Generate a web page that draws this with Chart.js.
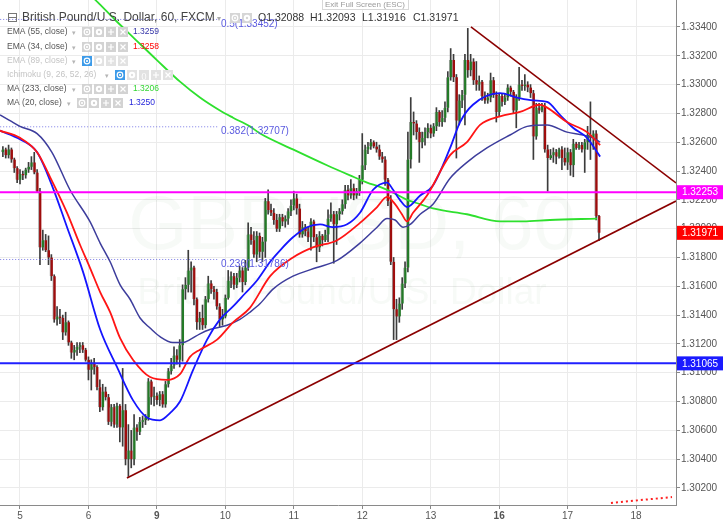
<!DOCTYPE html>
<html>
<head>
<meta charset="utf-8">
<script src="https://cdn.jsdelivr.net/npm/chart.js@4.4.1/dist/chart.umd.min.js"></script>
<style>
  html, body { margin: 0; padding: 0; background: #fff; overflow: hidden; }
  canvas { display: block; }
</style>
</head>
<body>
<canvas id="chart" width="723" height="523"></canvas>
<script>
// GBPUSD 60 min candles, hour 0 = start of the 5th
const firstHour = -6;
const opens = [
  1.3253,1.3255,1.3251,1.3255,1.3248,1.3242,1.3234,1.3238,1.3237,1.3241,
  1.3243,1.3246,1.3239,1.3226,1.3187,1.3192,1.3185,1.3180,1.3167,1.3137,
  1.3139,1.3138,1.3128,1.3135,1.3121,1.3114,1.3116,1.3118,1.3119,1.3116,
  1.3109,1.3102,1.3107,1.3104,1.3090,1.3076,1.3087,1.3083,1.3066,1.3076,
  1.3064,1.3077,1.3062,1.3074,1.3040,1.3046,1.3040,1.3062,1.3059,1.3066,
  1.3067,1.3069,1.3094,1.3083,1.3084,1.3081,1.3085,1.3078,1.3092,1.3101,
  1.3105,1.3112,1.3109,1.3119,1.3158,1.3161,1.3171,1.3173,1.3151,1.3135,
  1.3138,1.3133,1.3151,1.3162,1.3158,1.3156,1.3146,1.3137,1.3139,1.3152,
  1.3164,1.3167,1.3161,1.3166,1.3171,1.3163,1.3173,1.3196,1.3192,1.3182,
  1.3195,1.3184,1.3191,1.3219,1.3213,1.3211,1.3206,1.3200,1.3208,1.3205,
  1.3207,1.3212,1.3216,1.3221,1.3214,1.3196,1.3201,1.3198,1.3194,1.3205,
  1.3194,1.3187,1.3195,1.3192,1.3196,1.3207,1.3210,1.3203,1.3210,1.3212,
  1.3217,1.3227,1.3223,1.3228,1.3223,1.3226,1.3234,1.3244,1.3255,1.3257,
  1.3260,1.3257,1.3255,1.3250,1.3248,1.3234,1.3219,1.3177,1.3144,1.3139,
  1.3148,1.3162,1.3173,1.3248,1.3274,1.3273,1.3267,1.3260,1.3263,1.3267,
  1.3270,1.3266,1.3271,1.3281,1.3274,1.3277,1.3284,1.3305,1.3317,1.3305,
  1.3275,1.3289,1.3293,1.3317,1.3310,1.3316,1.3303,1.3300,1.3302,1.3292,
  1.3289,1.3291,1.3303,1.3293,1.3281,1.3292,1.3288,1.3291,1.3298,1.3295,
  1.3282,1.3291,1.3300,1.3299,1.3300,1.3298,1.3294,1.3264,1.3284,1.3282,
  1.3285,1.3255,1.3249,1.3251,1.3253,1.3250,1.3255,1.3249,1.3246,1.3253,
  1.3244,1.3259,1.3256,1.3258,1.3255,1.3260,1.3265,1.3263,1.3266,1.32088
];
const highs = [
  1.3257,1.3256,1.3258,1.3256,1.3249,1.3243,1.3241,1.3240,1.3242,1.3246,
  1.3250,1.3253,1.3241,1.3228,1.3199,1.3196,1.3195,1.3182,1.3168,1.3146,
  1.3144,1.3140,1.3142,1.3136,1.3122,1.3119,1.3121,1.3121,1.3121,1.3117,
  1.3111,1.3109,1.3110,1.3105,1.3095,1.3092,1.3090,1.3085,1.3078,1.3078,
  1.3079,1.3078,1.3103,1.3078,1.3064,1.3060,1.3071,1.3064,1.3069,1.3070,
  1.3071,1.3096,1.3095,1.3090,1.3086,1.3087,1.3087,1.3094,1.3103,1.3110,
  1.3118,1.3116,1.3123,1.3161,1.3166,1.3185,1.3177,1.3174,1.3152,1.3142,
  1.3147,1.3153,1.3167,1.3164,1.3160,1.3158,1.3148,1.3144,1.3154,1.3171,
  1.3170,1.3169,1.3169,1.3174,1.3173,1.3178,1.3204,1.3201,1.3198,1.3198,
  1.3197,1.3194,1.3221,1.3227,1.3217,1.3214,1.3210,1.3210,1.3210,1.3209,
  1.3214,1.3220,1.3226,1.3224,1.3217,1.3205,1.3203,1.3201,1.3207,1.3206,
  1.3196,1.3198,1.3196,1.3199,1.3213,1.3218,1.3212,1.3212,1.3214,1.3220,
  1.3230,1.3230,1.3234,1.3231,1.3228,1.3237,1.3266,1.3258,1.3260,1.3262,
  1.3261,1.3260,1.3258,1.3253,1.3250,1.3235,1.3223,1.3180,1.3151,1.3152,
  1.3166,1.3177,1.3267,1.3291,1.3281,1.3275,1.3270,1.3267,1.3270,1.3273,
  1.3272,1.3273,1.3284,1.3282,1.3282,1.3288,1.3309,1.3325,1.3321,1.3307,
  1.3293,1.3296,1.3321,1.3339,1.3321,1.3318,1.3316,1.3306,1.3303,1.3295,
  1.3294,1.3308,1.3305,1.3295,1.3294,1.3294,1.3294,1.3300,1.3299,1.3296,
  1.3293,1.3312,1.3303,1.3307,1.3302,1.3300,1.3296,1.3287,1.3287,1.3287,
  1.3287,1.3258,1.3255,1.3256,1.3255,1.3256,1.3257,1.3256,1.3256,1.3255,
  1.3262,1.3260,1.3260,1.3260,1.3262,1.3271,1.3288,1.3268,1.3268,1.32093
];
const lows = [
  1.3250,1.3249,1.3249,1.3246,1.3239,1.3232,1.3231,1.3234,1.3235,1.3239,
  1.3241,1.3238,1.3225,1.3175,1.3185,1.3184,1.3175,1.3164,1.3135,1.3133,
  1.3134,1.3123,1.3126,1.3119,1.3110,1.3109,1.3112,1.3114,1.3114,1.3108,
  1.3095,1.3088,1.3099,1.3088,1.3073,1.3074,1.3081,1.3064,1.3063,1.3062,
  1.3062,1.3052,1.3049,1.3036,1.3028,1.3034,1.3036,1.3053,1.3057,1.3062,
  1.3064,1.3067,1.3078,1.3077,1.3078,1.3077,1.3076,1.3076,1.3090,1.3099,
  1.3103,1.3106,1.3104,1.3108,1.3151,1.3156,1.3156,1.3147,1.3130,1.3130,
  1.3130,1.3131,1.3149,1.3155,1.3151,1.3144,1.3132,1.3133,1.3138,1.3151,
  1.3159,1.3158,1.3159,1.3163,1.3156,1.3161,1.3171,1.3189,1.3180,1.3177,
  1.3180,1.3177,1.3180,1.3210,1.3209,1.3203,1.3198,1.3198,1.3202,1.3201,
  1.3203,1.3209,1.3213,1.3210,1.3194,1.3194,1.3195,1.3191,1.3185,1.3191,
  1.3177,1.3184,1.3188,1.3191,1.3191,1.3205,1.3176,1.3189,1.3206,1.3210,
  1.3214,1.3220,1.3221,1.3220,1.3221,1.3223,1.3231,1.3241,1.3252,1.3255,
  1.3256,1.3253,1.3248,1.3246,1.3230,1.3216,1.3175,1.3123,1.3123,1.3135,
  1.3144,1.3159,1.3170,1.3242,1.3265,1.3262,1.3246,1.3256,1.3258,1.3263,
  1.3263,1.3264,1.3268,1.3271,1.3271,1.3274,1.3281,1.3303,1.3302,1.3249,
  1.3272,1.3284,1.3272,1.3305,1.3306,1.3300,1.3296,1.3296,1.3289,1.3287,
  1.3287,1.3288,1.3291,1.3274,1.3278,1.3285,1.3286,1.3289,1.3292,1.3280,
  1.3270,1.3289,1.3296,1.3296,1.3295,1.3291,1.3248,1.3262,1.3280,1.3281,
  1.3253,1.3226,1.3248,1.3246,1.3245,1.3249,1.3241,1.3244,1.3241,1.3237,
  1.3236,1.3255,1.3255,1.3253,1.3239,1.3255,1.3248,1.3255,1.3206,1.31916
];
const closes = [
  1.3255,1.3251,1.3255,1.3248,1.3242,1.3234,1.3238,1.3237,1.3241,1.3243,
  1.3246,1.3239,1.3226,1.3187,1.3192,1.3185,1.3180,1.3167,1.3137,1.3139,
  1.3138,1.3128,1.3135,1.3121,1.3114,1.3116,1.3118,1.3119,1.3116,1.3109,
  1.3102,1.3107,1.3104,1.3090,1.3076,1.3087,1.3083,1.3066,1.3076,1.3064,
  1.3077,1.3062,1.3074,1.3040,1.3046,1.3040,1.3062,1.3059,1.3066,1.3067,
  1.3069,1.3094,1.3083,1.3084,1.3081,1.3085,1.3078,1.3092,1.3101,1.3105,
  1.3112,1.3109,1.3119,1.3158,1.3161,1.3171,1.3173,1.3151,1.3135,1.3138,
  1.3133,1.3151,1.3162,1.3158,1.3156,1.3146,1.3137,1.3139,1.3152,1.3164,
  1.3167,1.3161,1.3166,1.3171,1.3163,1.3173,1.3196,1.3192,1.3182,1.3195,
  1.3184,1.3191,1.3219,1.3213,1.3211,1.3206,1.3200,1.3208,1.3205,1.3207,
  1.3212,1.3216,1.3221,1.3214,1.3196,1.3201,1.3198,1.3194,1.3205,1.3194,
  1.3187,1.3195,1.3192,1.3196,1.3207,1.3210,1.3203,1.3210,1.3212,1.3217,
  1.3227,1.3223,1.3228,1.3223,1.3226,1.3234,1.3244,1.3255,1.3257,1.3260,
  1.3257,1.3255,1.3250,1.3248,1.3234,1.3219,1.3177,1.3144,1.3139,1.3148,
  1.3162,1.3173,1.3248,1.3274,1.3273,1.3267,1.3260,1.3263,1.3267,1.3270,
  1.3266,1.3271,1.3281,1.3274,1.3277,1.3284,1.3305,1.3317,1.3305,1.3275,
  1.3289,1.3293,1.3317,1.3310,1.3316,1.3303,1.3300,1.3302,1.3292,1.3289,
  1.3291,1.3303,1.3293,1.3281,1.3292,1.3288,1.3291,1.3298,1.3295,1.3282,
  1.3291,1.3300,1.3299,1.3300,1.3298,1.3294,1.3264,1.3284,1.3282,1.3285,
  1.3255,1.3249,1.3251,1.3253,1.3250,1.3255,1.3249,1.3246,1.3253,1.3244,
  1.3259,1.3256,1.3258,1.3255,1.3260,1.3265,1.3263,1.3266,1.32088,1.31971
];

// indicator lines: [hour, price]
const ema55 = [[-7,1.3279],[-3.5,1.3275],[0,1.3271],[6,1.3266],[11.2,1.3253],[17.5,1.3227],[24.5,1.3205],
  [28.1,1.3190],[31.6,1.3177],[35.1,1.3161],[38.6,1.3151],[42.1,1.3138],[45.6,1.3131],[49.1,1.3125],
  [53.6,1.3121],[57.2,1.3121],[59.6,1.3123],[63.1,1.3127],[66.6,1.3130],[72.6,1.3133],[77.1,1.3137],
  [80.6,1.3142],[84.2,1.3148],[88.7,1.3158],[95.7,1.3167],[104.1,1.3173],[111.2,1.3178],[119.2,1.3190],
  [125.2,1.3201],[128.7,1.3207],[131.5,1.3206],[134.3,1.3201],[136.8,1.3203],[140.3,1.3210],[144.8,1.3217],
  [150.8,1.3235],[156.7,1.3246],[163.7,1.3256],[171.8,1.3265],[177.8,1.3271],[184.8,1.3272],[191.8,1.3267],
  [197.4,1.3265],[200.9,1.3263],[203.4,1.3260]];
const ema34 = [[-7,1.3268],[0,1.3263],[6,1.3253],[10.5,1.3236],[16.5,1.3211],[21,1.3189],[24.5,1.3173],
  [28.1,1.3156],[31.6,1.3142],[35.1,1.3124],[39.6,1.3109],[45.6,1.3097],[51.5,1.3095],[56.1,1.3099],
  [59.6,1.3111],[63.1,1.3116],[69.1,1.3123],[74.7,1.3135],[80.6,1.3145],[87.7,1.3167],[95.7,1.3180],
  [102.7,1.3187],[111.2,1.3192],[119.2,1.3204],[125.2,1.3215],[128.7,1.3222],[131.5,1.3217],[133.9,1.3210],
  [135.7,1.3205],[137.8,1.3211],[142.7,1.3223],[150.8,1.3251],[156.7,1.3260],[161.3,1.3272],[168.3,1.3278],
  [175.3,1.3281],[182.3,1.3286],[184.8,1.3284],[191.8,1.3274],[198.8,1.3267],[203.4,1.3258]];
const ma20 = [[-7,1.3268],[0,1.3262],[6,1.3253],[11.6,1.3228],[16.5,1.3201],[22.1,1.3170],[28.1,1.3130],
  [34,1.3104],[39.6,1.3081],[44.5,1.3069],[49.1,1.3067],[52.6,1.3072],[56.1,1.3080],[60.7,1.3102],
  [65.6,1.3123],[70.1,1.3137],[74.7,1.3146],[78.9,1.3155],[83.1,1.3164],[87.7,1.3177],[91.2,1.3185],
  [95.7,1.3194],[100.6,1.3201],[105.2,1.3203],[109.7,1.3201],[114.7,1.3203],[119.2,1.3211],[123.8,1.3227],
  [128.7,1.3232],[130.8,1.3227],[133.2,1.3220],[135.7,1.3215],[140.3,1.3223],[144.8,1.3230],[150.8,1.3256],
  [154.3,1.3274],[158.8,1.3286],[168.3,1.3294],[174.3,1.3291],[179.9,1.3289],[184.8,1.3288],[189.3,1.3279],
  [193.9,1.3270],[198.8,1.3263],[203.4,1.3250]];
const ma233 = [[17.5,1.3376],[27.3,1.3357],[33.3,1.3345],[39.6,1.3333],[48,1.3317],[56.1,1.3302],[63.1,1.3291],
  [70.1,1.3282],[74.7,1.3277],[80.6,1.3271],[84.2,1.3266],[95.7,1.3255],[107.6,1.3244],[115.7,1.3237],
  [121.7,1.3232],[126.2,1.3229],[130.8,1.3225],[135.7,1.3220],[140.3,1.3217],[144.8,1.3214],[156.7,1.3210],
  [168.3,1.3205],[176.4,1.3205],[185.8,1.3206],[202.3,1.3207]];
const ichimokuTail = [[207.2,1.30096],[217.5,1.30116],[228.6,1.30137]];

// drawings
const supportLevel = 1.32253;
const lowLevel = 1.31065;
const upperTrend = [[158.1,1.3340],[230,1.32317]];
const lowerTrend = [[37.5,1.30269],[230,1.32192]];
const fibLevels = [0.5, 0.382, 0.236];
const fibPrices = [1.33452, 1.32707, 1.31786];
const fibEndHour = 69.4;

// axes
const dayHours = [0, 24, 48, 72, 96, 120, 144, 168, 192, 216];
const dayLabels = ['5', '6', '9', '10', '11', '12', '13', '16', '17', '18'];
const weekStarts = ['9', '16'];
const priceTicks = [1.302, 1.304, 1.306, 1.308, 1.310, 1.312, 1.314, 1.316, 1.318,
                    1.320, 1.322, 1.324, 1.326, 1.328, 1.330, 1.332, 1.334];
const markerPrices = [supportLevel, closes[closes.length - 1], lowLevel];
const markerColors = ['#ff00ff', '#ff0000', '#1a1aff'];

const title = 'British Pound/U.S. Dollar, 60, FXCM';
const watermark = ['GBPUSD, 60', 'British Pound/U.S. Dollar'];
const legendNames = ['EMA (55, close)', 'EMA (34, close)', 'EMA (89, close)', 'Ichimoku (9, 26, 52, 26)', 'MA (233, close)', 'MA (20, close)'];
const legendValues = ['1.3259', '1.3258', '', '', '1.3206', '1.3250'];

const FONT = '"Liberation Sans", Arial, sans-serif';
const upColor = '#237a27', downColor = '#9e0d0d';

const hours = opens.map((_, i) => firstHour + i);
const pts = arr => arr.map(p => ({x: p[0], y: p[1]}));
const line = (arr, color, width, extra) => Object.assign({
  type: 'line', data: pts(arr), borderColor: color, borderWidth: width,
  pointRadius: 0, fill: false, cubicInterpolationMode: 'monotone', order: 1
}, extra || {});

function icon(ctx, x, y, kind, bg) {
  ctx.fillStyle = bg;
  ctx.fillRect(x, y - 5, 10, 10);
  ctx.strokeStyle = '#fff'; ctx.fillStyle = '#fff'; ctx.lineWidth = 1.2;
  const cx = x + 5, cy = y;
  ctx.beginPath();
  if (kind === 'eye') {
    ctx.arc(cx, cy, 2.8, 0, Math.PI * 2); ctx.stroke();
    ctx.beginPath(); ctx.arc(cx, cy, 1.1, 0, Math.PI * 2); ctx.fill();
  } else if (kind === 'gear') {
    ctx.arc(cx, cy, 3.2, 0, Math.PI * 2); ctx.fill();
    ctx.fillStyle = bg; ctx.beginPath(); ctx.arc(cx, cy, 1.2, 0, Math.PI * 2); ctx.fill();
  } else if (kind === 'plus') {
    ctx.moveTo(cx - 3, cy); ctx.lineTo(cx + 3, cy); ctx.moveTo(cx, cy - 3); ctx.lineTo(cx, cy + 3); ctx.stroke();
  } else if (kind === 'x') {
    ctx.moveTo(cx - 2.5, cy - 2.5); ctx.lineTo(cx + 2.5, cy + 2.5);
    ctx.moveTo(cx + 2.5, cy - 2.5); ctx.lineTo(cx - 2.5, cy + 2.5); ctx.stroke();
  } else if (kind === 'paren') {
    ctx.font = '8px ' + FONT; ctx.textAlign = 'center'; ctx.fillText('()', cx, cy + 0.5); ctx.textAlign = 'left';
  }
}

const overlay = {
  id: 'overlay',
  beforeDatasetsDraw(chart) {
    const {ctx, chartArea: a} = chart;
    ctx.save();
    ctx.beginPath(); ctx.rect(a.left, a.top, a.width, a.height); ctx.clip();
    ctx.fillStyle = 'rgba(60,130,60,0.045)';
    ctx.textAlign = 'center'; ctx.textBaseline = 'middle';
    ctx.font = '76px ' + FONT;
    ctx.fillText(watermark[0], 352, 228);
    ctx.font = '37px ' + FONT;
    ctx.fillText(watermark[1], 342, 294);
    ctx.restore();
  },
  afterDraw(chart) {
    const {ctx, chartArea: a, scales: {x, y}} = chart;
    ctx.save();
    ctx.textBaseline = 'middle';

    // fib labels
    ctx.font = '10px ' + FONT; ctx.fillStyle = '#5a5ae0'; ctx.textAlign = 'left';
    fibPrices.forEach((p, i) => {
      ctx.fillText(fibLevels[i] + '(' + p.toFixed(5) + ')', x.getPixelForValue(fibEndHour) + 3, y.getPixelForValue(p) + 4.5);
    });

    // price labels on the axis
    ctx.textAlign = 'center';
    markerPrices.forEach((p, i) => {
      const py = y.getPixelForValue(p);
      ctx.fillStyle = markerColors[i];
      ctx.fillRect(a.right + 1, py - 7, 47, 14);
      ctx.fillStyle = '#fff';
      ctx.fillText(p.toFixed(5), a.right + 24, py + 0.5);
    });

    // exit full screen button
    ctx.fillStyle = '#fff'; ctx.strokeStyle = '#d8d8d8'; ctx.lineWidth = 1;
    ctx.fillRect(322, -1, 86, 11); ctx.strokeRect(322.5, -1.5, 86, 11);
    ctx.fillStyle = '#9a9a9a'; ctx.font = '8px ' + FONT;
    ctx.fillText('Exit Full Screen (ESC)', 365, 4.5);

    // title row
    ctx.textAlign = 'left';
    ctx.strokeStyle = '#777';
    ctx.strokeRect(8.5, 13.5, 8, 8);
    ctx.beginPath(); ctx.moveTo(8.5, 17.5); ctx.lineTo(16.5, 17.5); ctx.stroke();
    ctx.fillStyle = '#444'; ctx.font = '12px ' + FONT;
    ctx.fillText(title, 22, 18);
    ctx.fillStyle = '#aaa'; ctx.font = '8px "DejaVu Sans"';
    ctx.fillText('\u25BE', 217, 19);
    icon(ctx, 230, 18, 'eye', '#d6d6d6');
    icon(ctx, 242, 18, 'gear', '#d6d6d6');
    const last = closes.length - 1;
    const ohlcX = [258, 310, 362, 413];
    ctx.font = '10.5px ' + FONT; ctx.fillStyle = '#333';
    [['O', opens], ['H', highs], ['L', lows], ['C', closes]].forEach((e, i) => {
      ctx.fillText(e[0] + e[1][last].toFixed(5), ohlcX[i], 18);
    });

    // indicator legend
    const rowY = [32, 47, 61, 75, 89, 103];
    const faded = [false, false, true, true, false, false];
    const arrowX = [72, 72, 72, 105, 72, 67];
    const iconX = [82, 82, 82, 115, 82, 77];
    const valueX = [133, 133, 0, 0, 133, 129];
    const valueColors = ['#3535a8', '#ff0000', '', '', '#33d633', '#1f1fd8'];
    legendNames.forEach((name, i) => {
      ctx.font = '8.5px ' + FONT;
      ctx.fillStyle = faded[i] ? '#c4c4c4' : '#555';
      ctx.fillText(name, 7, rowY[i]);
      ctx.fillStyle = '#b5b5b5'; ctx.font = '7px "DejaVu Sans"';
      ctx.fillText('\u25BE', arrowX[i], rowY[i] + 1);
      const kinds = i === 3 ? ['eye', 'gear', 'paren', 'plus', 'x'] : ['eye', 'gear', 'plus', 'x'];
      kinds.forEach((k, j) => {
        const bg = faded[i] ? (j === 0 ? '#3d9be9' : '#e2e2e2') : '#d3d3d3';
        icon(ctx, iconX[i] + j * 12, rowY[i], k, bg);
      });
      if (legendValues[i]) {
        ctx.font = '8.5px ' + FONT; ctx.fillStyle = valueColors[i];
        ctx.fillText(legendValues[i], valueX[i], rowY[i]);
      }
    });
    ctx.restore();
  }
};

new Chart(document.getElementById('chart'), {
  type: 'bar',
  data: {
    datasets: [
      line([[-8, supportLevel], [231, supportLevel]], '#ff00ff', 2, {order: 0, cubicInterpolationMode: 'default'}),
      line([[-8, lowLevel], [231, lowLevel]], '#2020ff', 2, {order: 0, cubicInterpolationMode: 'default'}),
      line(upperTrend, '#8b0000', 1.6, {order: 0, cubicInterpolationMode: 'default'}),
      line(lowerTrend, '#8b0000', 1.6, {order: 0, cubicInterpolationMode: 'default'}),
      line(ema34, '#ff1515', 1.8),
      line(ma20, '#1515ff', 1.8),
      line(ema55, '#3d3d9c', 1.5),
      line(ma233, '#2ee02e', 1.8),
      line(ichimokuTail, '#ff2020', 2, {borderDash: [2, 3]}),
      ...fibPrices.map(p => line([[-8, p], [fibEndHour, p]], 'rgba(90,90,225,0.8)', 1,
        {borderDash: [1, 2], order: 2, cubicInterpolationMode: 'default'})),
      {
        type: 'bar', label: 'bodies',
        data: hours.map((h, i) => ({x: h, y: [opens[i], closes[i]]})),
        backgroundColor: c => closes[c.dataIndex] >= opens[c.dataIndex] ? upColor : downColor,
        borderColor: '#a2a2a2', borderWidth: {left: 1, right: 0, top: 0, bottom: 0}, borderSkipped: false,
        barThickness: 3, maxBarThickness: 3, barPercentage: 1, categoryPercentage: 1,
        minBarLength: 1, grouped: false, order: 8
      },
      {
        type: 'bar', label: 'wicks',
        data: hours.map((h, i) => ({x: h, y: [lows[i], highs[i]]})),
        backgroundColor: '#3c3c3c',
        barThickness: 1, maxBarThickness: 1, barPercentage: 1, categoryPercentage: 1,
        grouped: false, order: 9
      }
    ]
  },
  options: {
    responsive: false,
    animation: false,
    devicePixelRatio: 1,
    layout: {padding: 0},
    plugins: {legend: {display: false}, tooltip: {enabled: false}},
    scales: {
      x: {
        type: 'linear', min: -7.01, max: 230.0, offset: false,
        afterBuildTicks: s => { s.ticks = dayHours.map(v => ({value: v})); },
        afterFit: s => { s.height = 18; s.paddingLeft = 0; s.paddingRight = 0; },
        ticks: {
          autoSkip: false, maxRotation: 0, padding: 1, color: '#555',
          callback: (v, i) => dayLabels[i],
          font: c => ({family: FONT, size: 10, weight: weekStarts.includes(dayLabels[c.index]) ? 'bold' : 'normal'})
        },
        grid: {color: '#ebebeb', offset: false, tickLength: 4, tickColor: '#888'},
        border: {color: '#8a8a8a'}
      },
      y: {
        position: 'right', min: 1.30082, max: 1.33587,
        afterBuildTicks: s => { s.ticks = priceTicks.map(v => ({value: v})); },
        afterFit: s => { s.width = 47; s.paddingTop = 0; s.paddingBottom = 0; },
        ticks: {padding: 1, color: '#555', font: {family: FONT, size: 10}, callback: v => v.toFixed(5)},
        grid: {color: '#ebebeb', tickLength: 4, tickColor: '#888'},
        border: {color: '#8a8a8a'}
      }
    }
  },
  plugins: [overlay]
});
</script>
</body>
</html>
